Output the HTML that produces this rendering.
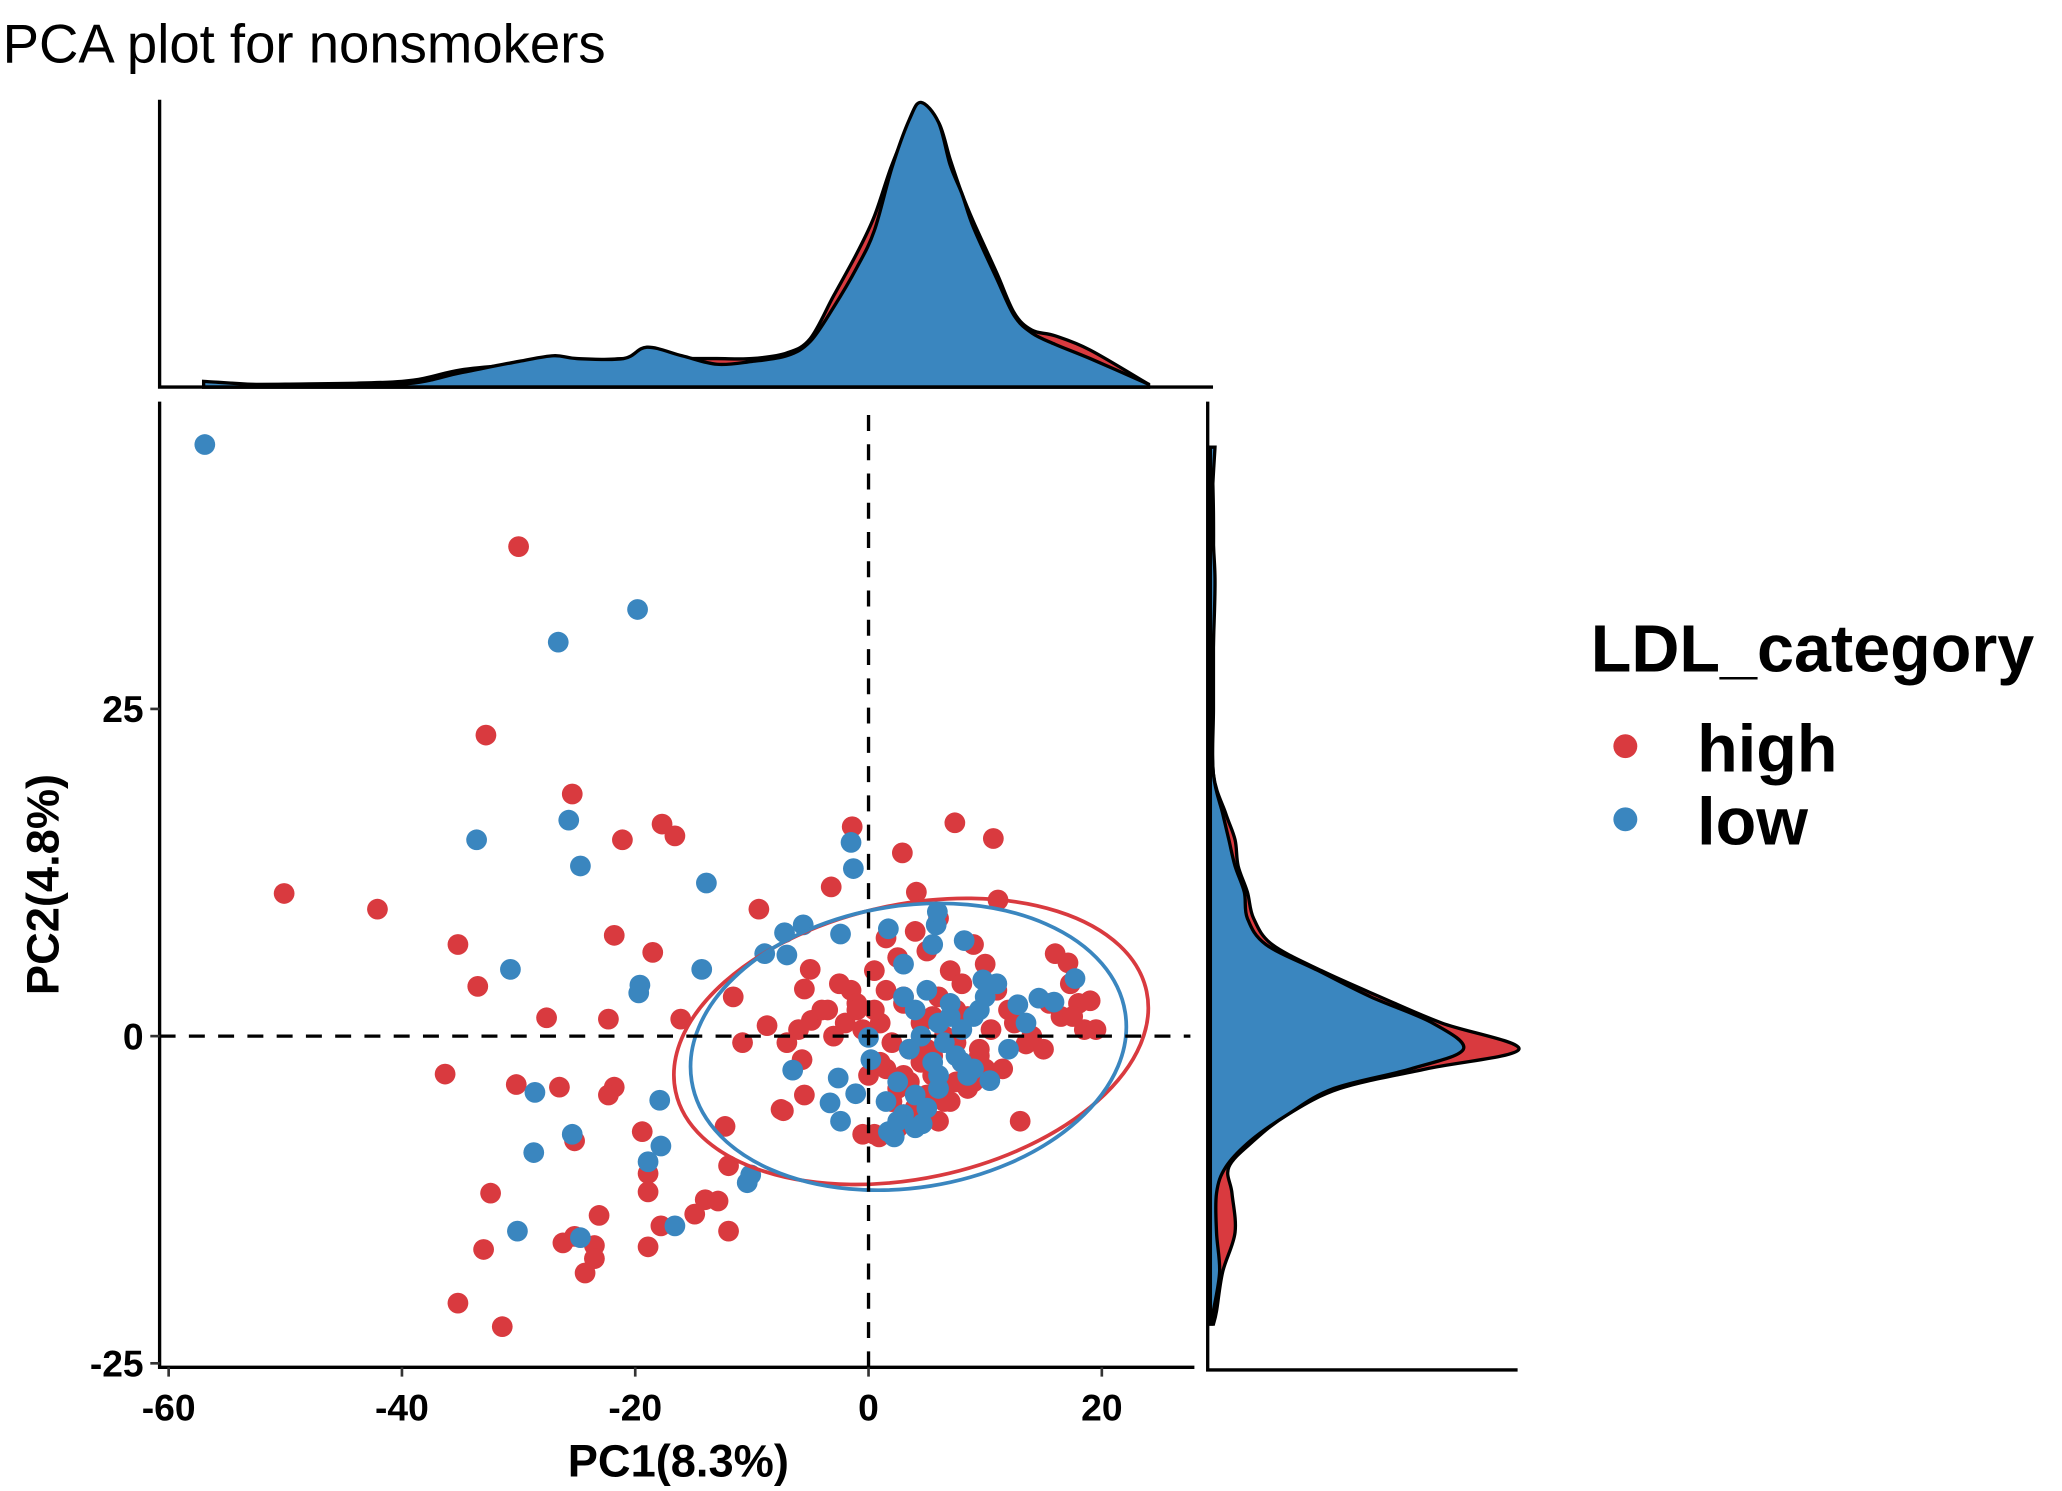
<!DOCTYPE html>
<html><head><meta charset="utf-8"><style>
html,body{margin:0;padding:0;background:#fff;}
svg{display:block;font-family:"Liberation Sans",sans-serif;}
</style></head><body>
<svg id="chart" width="2062" height="1491" viewBox="0 0 1550.3 1121" xmlns="http://www.w3.org/2000/svg">
<text x="2" y="47" font-size="41">PCA plot for nonsmokers</text>
<g id="topDens"></g>
<g id="rightDens"></g>
<g id="main"></g>
<g>
<text x="1196" y="505" font-size="50" font-weight="bold">LDL_category</text>
<circle cx="1222" cy="561" r="9" fill="#d93a3f"/>
<text x="1276" y="580" font-size="50" font-weight="bold">high</text>
<circle cx="1222" cy="616" r="9" fill="#3a86bf"/>
<text x="1276" y="635" font-size="50" font-weight="bold">low</text>
</g>
</svg>
<script>
const RED="#d93a3f", BLUE="#3a86bf";
const xTicks=[-60,-40,-20,0,20];
const yTicks=[-25,0,25];
const highX=[-30.0,-32.8,-50.1,-42.1,-35.2,-33.5,-27.6,-36.3,-30.2,-26.5,-25.4,-21.1,-17.7,-16.6,-21.8,-18.5,-22.3,-21.8,-22.3,-25.2,-19.4,-18.9,-18.9,-17.8,-18.9,-26.2,-25.2,-23.5,-23.5,-24.3,-23.1,-32.4,-33.0,-35.2,-31.4,-14.9,-14.0,-12.9,-12.0,-12.0,-12.3,-10.8,-9.4,-11.6,-8.7,-7.5,-7.3,-16.1,-5.5,-5.0,-5.7,-5.5,-4.9,-3.2,-1.4,2.9,7.4,10.7,4.1,11.1,0.9,16.0,17.1,17.3,18.0,19.0,13.5,
-1.5,-2.5,-3.5,0.5,1.5,2.5,3.0,4.0,5.0,6.0,7.0,8.0,9.0,10.0,11.0,12.0,-0.5,1.0,2.0,3.5,4.5,5.5,6.5,7.5,8.5,9.5,10.5,12.5,14.0,15.0,16.5,18.5,0.0,1.5,2.5,3.5,4.5,5.5,6.5,7.5,8.5,9.5,2.0,3.0,4.0,5.0,6.0,7.0,8.5,10.0,-1.0,0.5,1.5,3.0,4.5,6.0,7.5,-2.0,-4.0,-6.0,-7.0,1.0,3.0,5.0,8.0,11.5,13.0,-0.5,2.5,4.0,6.5,9.0,0.5,2.0,5.5,-3.0,-1.0,15.5,17.5,19.5],
highY=[37.4,23.0,10.9,9.7,7.0,3.8,1.4,-2.9,-3.7,-3.9,18.5,15.0,16.2,15.3,7.7,6.4,1.3,-3.9,-4.5,-8.0,-7.3,-10.5,-11.9,-14.5,-16.1,-15.8,-15.3,-16.0,-17.0,-18.1,-13.7,-12.0,-16.3,-20.4,-22.2,-13.6,-12.5,-12.6,-14.9,-9.9,-6.9,-0.5,9.7,3.0,0.8,-5.6,-5.7,1.3,3.6,5.1,-1.8,-4.5,1.2,11.4,16.0,14.0,16.3,15.1,11.0,10.4,-7.7,6.3,5.6,4.0,2.5,2.7,-0.6,
3.5,4.0,2.0,5.0,7.5,6.0,3.0,8.0,6.5,9.0,5.0,4.0,7.0,5.5,3.5,2.0,0.5,1.0,-0.5,-1.0,-2.0,-1.5,0.0,-0.5,1.5,-1.0,0.5,1.0,0.0,-1.0,1.5,0.5,-3.0,-2.5,-4.0,-3.5,-2.0,-3.0,-4.5,-3.5,-2.5,-1.5,-5.0,-6.0,-5.5,-4.5,-6.5,-5.0,-4.0,-2.5,2.5,2.0,3.5,2.5,1.0,3.0,2.0,1.0,2.0,0.5,-0.5,-2.0,-3.0,-1.0,-2.0,-2.5,-6.5,-7.5,-7.0,-5.5,-5.0,-3.5,-7.5,-5.0,1.5,0.0,2.0,2.5,1.5,0.5];
const lowX=[-56.9,-19.8,-26.6,-33.6,-25.7,-24.7,-13.9,-30.7,-19.6,-19.7,-14.3,-28.6,-25.4,-28.7,-30.1,-24.7,-17.9,-17.8,-18.9,-16.6,-10.1,-10.4,-8.9,-7.2,-5.6,-7.0,-6.5,-1.5,-1.3,-2.4,-2.6,-3.3,-2.4,-1.1,0.0,0.2,1.7,5.8,5.9,8.2,9.8,10.4,12.8,14.6,15.9,17.7,1.7,2.2,4.6,
3.0,4.0,5.0,6.0,7.0,8.0,9.0,10.0,3.5,4.5,5.5,6.5,7.5,8.5,2.5,4.0,6.0,8.0,3.0,5.0,7.0,9.5,11.0,1.5,2.5,4.0,3.0,5.5,13.5,12.0,9.0,6.0],
lowY=[45.2,32.6,30.1,15.0,16.5,13.0,11.7,5.1,3.9,3.3,5.1,-4.3,-7.5,-8.9,-14.9,-15.4,-4.9,-8.4,-9.6,-14.5,-10.6,-11.2,6.3,7.9,8.5,6.2,-2.6,14.8,12.8,7.8,-3.2,-5.1,-6.5,-4.4,-0.1,-1.8,8.2,8.5,9.5,7.3,4.3,-3.4,2.4,2.9,2.6,4.4,-7.3,-7.7,-6.7,
3.0,2.0,3.5,1.0,2.5,0.5,1.5,3.0,-1.0,0.0,-2.0,-0.5,-1.5,-3.0,-3.5,-4.5,-4.0,-2.0,-6.0,-5.5,1.5,2.0,4.0,-5.0,-6.5,-7.0,5.5,7.0,1.0,-1.0,-2.5,-3.0];
const densX=[-57,-50,-40,-35,-30,-27,-25,-21,-19,-16,-13,-10,-7,-5,-3,-1,0.5,2,3.5,4.5,6,7,8,9,11,12.5,14,16,19,24];
const densXHigh=[0.01,0.01,0.02,0.06,0.08,0.09,0.09,0.1,0.1,0.1,0.1,0.1,0.12,0.17,0.32,0.47,0.6,0.78,0.92,0.97,0.93,0.8,0.68,0.58,0.4,0.26,0.2,0.18,0.13,0.01];
const densXLow=[0.02,0.005,0.01,0.05,0.09,0.11,0.10,0.10,0.14,0.11,0.08,0.09,0.11,0.16,0.28,0.42,0.55,0.77,0.94,1.0,0.93,0.78,0.68,0.56,0.38,0.25,0.19,0.15,0.10,0.01];
const densY=[45,40,35,30,25,20,17,15,13,11,9,7,5,3,1,-1,-2.5,-4,-6,-8,-10,-12,-15,-18,-21,-22];
const densYHigh=[0.005,0.01,0.01,0.01,0.01,0.01,0.05,0.08,0.09,0.12,0.14,0.2,0.36,0.55,0.75,1.0,0.7,0.42,0.25,0.14,0.06,0.07,0.08,0.04,0.02,0.01];
const densYLow=[0.015,0.005,0.015,0.01,0.005,0.01,0.04,0.06,0.08,0.11,0.12,0.18,0.35,0.52,0.72,0.82,0.65,0.4,0.25,0.13,0.05,0.02,0.02,0.03,0.01,0.005];
const NS="http://www.w3.org/2000/svg";
const xs=v=>653+8.77*v, ys=v=>779-9.84*v;
function mk(tag,attrs,parent){const e=document.createElementNS(NS,tag);for(const k in attrs)e.setAttribute(k,attrs[k]);parent.appendChild(e);return e;}
function smooth(p){let d="M"+p[0][0]+","+p[0][1];for(let i=0;i<p.length-1;i++){const p0=p[i-1]||p[i],p1=p[i],p2=p[i+1],p3=p[i+2]||p2;d+=` C${p1[0]+(p2[0]-p0[0])/6},${p1[1]+(p2[1]-p0[1])/6} ${p2[0]-(p3[0]-p1[0])/6},${p2[1]-(p3[1]-p1[1])/6} ${p2[0]},${p2[1]}`;}return d;}
const main=document.getElementById('main'),top_=document.getElementById('topDens'),right=document.getElementById('rightDens');
[[densXHigh,RED,'top-density-high'],[densXLow,BLUE,'top-density-low']].forEach(([arr,c,n])=>{
 const pts=densX.map((x,i)=>[xs(x),291-214*arr[i]]);
 const p=mk('path',{d:smooth(pts)+` L${xs(densX[densX.length-1])},291 L${xs(densX[0])},291 Z`,fill:c,stroke:'#000','stroke-width':2.5},top_);
 
 
});
mk('path',{d:'M120,75 V291 H912',fill:'none',stroke:'#000','stroke-width':2.5},top_);
[[densYHigh,RED,'right-density-high'],[densYLow,BLUE,'right-density-low']].forEach(([arr,c,n])=>{
 const pts=densY.map((y,i)=>[910+232*arr[i],ys(y)]);
 const p=mk('path',{d:smooth(pts)+` L910,${ys(densY[densY.length-1])} L910,${ys(densY[0])} Z`,fill:c,stroke:'#000','stroke-width':2.5},right);
 
 
});
mk('path',{d:'M908,302 V1030 H1141',fill:'none',stroke:'#000','stroke-width':2.5},right);
const n=Math.min(highX.length,highY.length);
for(let i=0;i<n;i++){const c=mk('circle',{cx:xs(highX[i]),cy:ys(highY[i]),r:7.8,fill:RED},main);
 
 }
const m=Math.min(lowX.length,lowY.length);
for(let i=0;i<m;i++){const c=mk('circle',{cx:xs(lowX[i]),cy:ys(lowY[i]),r:7.8,fill:BLUE},main);
 
 }
const e1=mk('ellipse',{cx:685,cy:783,rx:181,ry:103,fill:'none',stroke:RED,'stroke-width':2.8,transform:'rotate(-12 685 783)'},main);


const e2=mk('ellipse',{cx:683,cy:787,rx:165,ry:106,fill:'none',stroke:BLUE,'stroke-width':2.8,transform:'rotate(-9 683 787)'},main);


mk('line',{x1:xs(0),y1:312,x2:xs(0),y2:1028,stroke:'#000','stroke-width':2.5,'stroke-dasharray':'12,10'},main);
mk('line',{x1:120,y1:ys(0),x2:895,y2:ys(0),stroke:'#000','stroke-width':2.5,'stroke-dasharray':'12,10'},main);
mk('path',{d:'M120,302 V1028 H898',fill:'none',stroke:'#000','stroke-width':2.5},main);
xTicks.forEach(t=>{mk('line',{x1:xs(t),y1:1028,x2:xs(t),y2:1035,stroke:'#333','stroke-width':2},main);
 const tx=mk('text',{x:xs(t),y:1068,'text-anchor':'middle','font-size':28,'font-weight':'bold'},main);tx.textContent=t;
 
 });
yTicks.forEach(t=>{mk('line',{x1:113,y1:ys(t),x2:120,y2:ys(t),stroke:'#333','stroke-width':2},main);
 const tx=mk('text',{x:108,y:ys(t)+10,'text-anchor':'end','font-size':28,'font-weight':'bold'},main);tx.textContent=t;
 
 });
const xt=mk('text',{x:510,y:1110,'text-anchor':'middle','font-size':34,'font-weight':'bold'},main);xt.textContent='PC1(8.3%)';


const yt=mk('text',{x:0,y:0,'text-anchor':'middle','font-size':34,'font-weight':'bold',transform:'translate(44,665) rotate(-90)'},main);yt.textContent='PC2(4.8%)';


</script>
</body></html>
